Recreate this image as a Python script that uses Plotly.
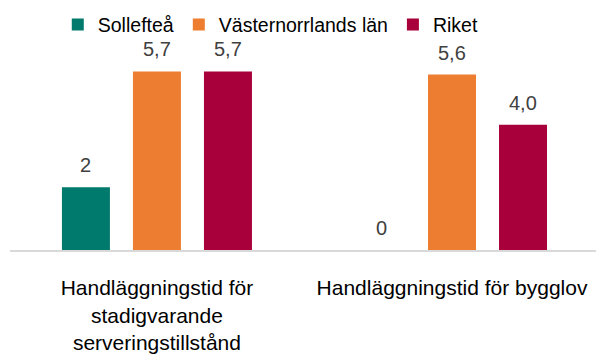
import plotly.graph_objects as go

# Processing times (weeks) per case type
categories = ["Handläggningstid för<br>stadigvarande<br>serveringstillstånd",
              "Handläggningstid för bygglov"]
series_names = ["Sollefteå", "Västernorrlands län", "Riket"]
sollefteå = [2, 0]
vasternorrland = [5.7, 5.6]
riket = [5.7, 4.0]
label_sollefteå = ["2", "0"]
label_vasternorrland = ["5,7", "5,6"]
label_riket = ["5,7", "4,0"]

colors = ["#007A6C", "#ED7D31", "#A8003A"]
FONT = "Liberation Sans, Arial, sans-serif"

BARGAP = 0.278
BARGROUPGAP = 0.324

fig = go.Figure()
all_series = [sollefteå, vasternorrland, riket]
all_labels = [label_sollefteå, label_vasternorrland, label_riket]
for name, vals, col in zip(series_names, all_series, colors):
    fig.add_trace(go.Bar(
        x=list(range(len(categories))), y=vals, name=name,
        marker=dict(color=col, line=dict(width=0)),
        hoverinfo="skip",
    ))

# value labels above each bar, placed on the bar's offset within the group
n = len(series_names)
slot = (1 - BARGAP) / n
for i, (vals, labels) in enumerate(zip(all_series, all_labels)):
    offset = -(1 - BARGAP) / 2 + slot * (i + 0.5)
    for c, (v, lab) in enumerate(zip(vals, labels)):
        fig.add_annotation(
            x=c + offset, y=v, xref="x", yref="y", text=lab,
            showarrow=False, yanchor="bottom", yshift=9,
            font=dict(family=FONT, size=20, color="#404040"),
        )

fig.update_layout(
    width=596, height=354,
    margin=dict(l=10, r=0, t=62, b=104),
    paper_bgcolor="white", plot_bgcolor="white",
    barmode="group", bargap=BARGAP, bargroupgap=BARGROUPGAP,
    font=dict(family=FONT, color="#000000"),
    showlegend=True,
    legend=dict(orientation="h", x=0.445, xanchor="center", y=0.985, yanchor="top",
                yref="container", font=dict(family=FONT, size=19.5, color="#000000"),
                itemwidth=30, traceorder="normal"),
)
fig.update_xaxes(range=[-0.498, 1.488], showline=True, linecolor="#D9D9D9", linewidth=2,
                 tickmode="array", tickvals=list(range(len(categories))), ticktext=categories,
                 ticks="", ticklabelstandoff=18,
                 tickfont=dict(family=FONT, size=21, color="#000000"),
                 showgrid=False, zeroline=False)
fig.update_yaxes(range=[0, 6.0], visible=False, showgrid=False, zeroline=False)

fig.write_html("out.html")
